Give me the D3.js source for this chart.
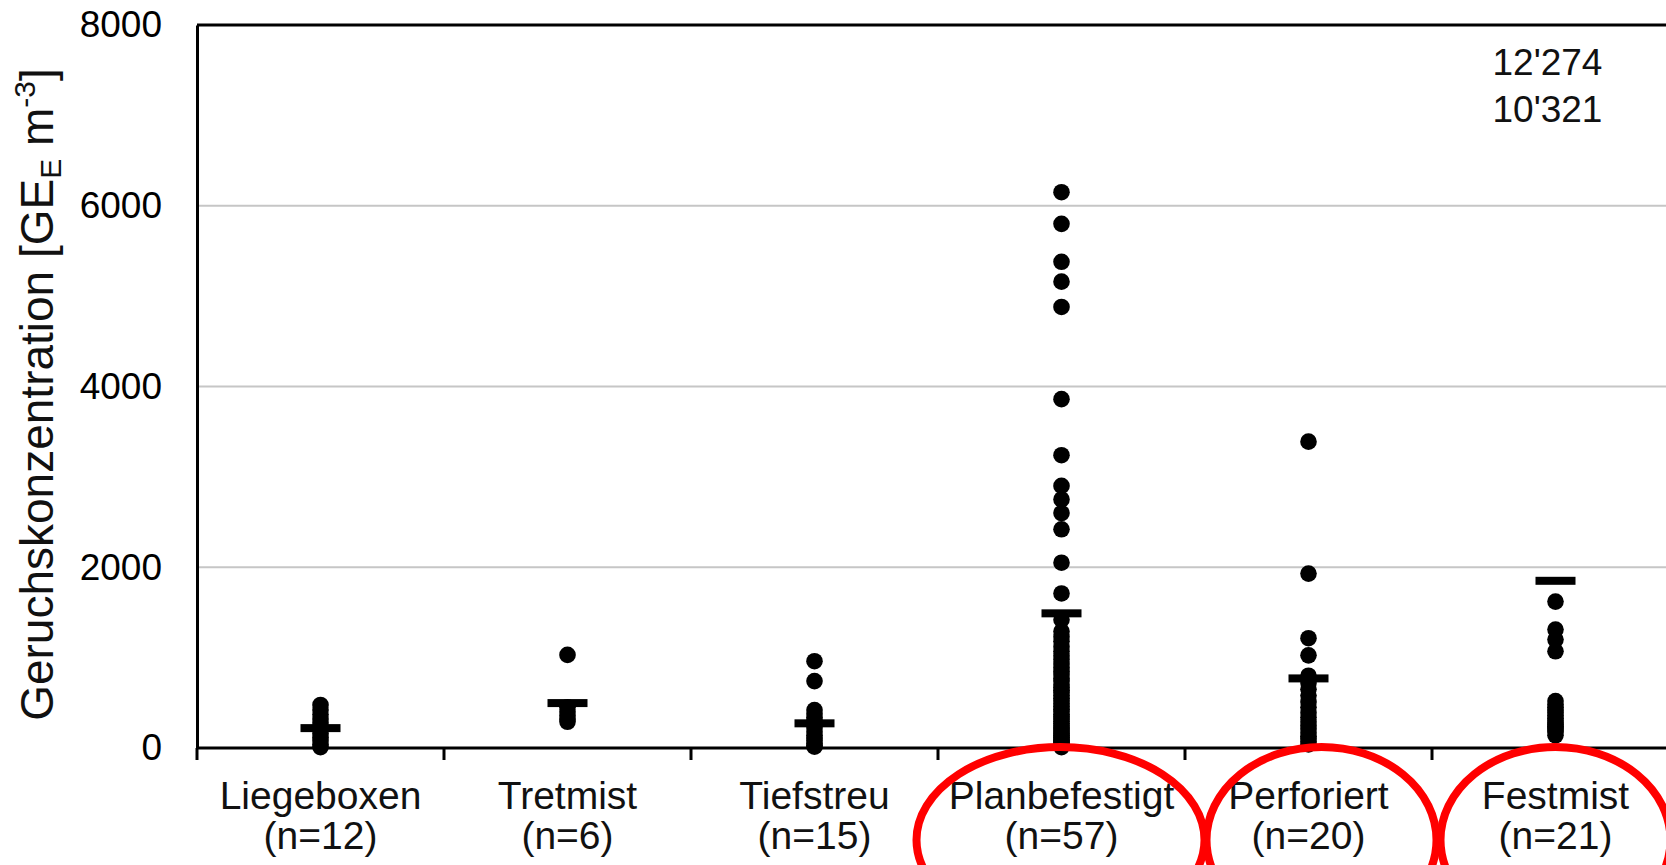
<!DOCTYPE html>
<html>
<head>
<meta charset="utf-8">
<script src="https://cdn.jsdelivr.net/npm/d3@7"></script>
<style>
  body { margin: 0; background: #fff; }
  svg { display: block; font-family: "Liberation Sans", Arial, sans-serif; }
</style>
</head>
<body>
<div id="chart"></div>
<script>
// --------------------------------------------------
// data

const categories = ['Liegeboxen', 'Tretmist', 'Tiefstreu', 'Planbefestigt', 'Perforiert', 'Festmist'];
const sampleCounts = [12, 6, 15, 57, 20, 21];
const yTicks = [0, 2000, 4000, 6000, 8000];

const liegeboxen = [476, 420, 370, 320, 280, 240, 200, 160, 120, 80, 40, 10];
const tretmist = [1030, 450, 400, 360, 320, 290];
const tiefstreu = [960, 740, 420, 380, 340, 300, 260, 220, 180, 140, 110, 80, 50, 30, 15];
const planbefestigt = [6150, 5800, 5380, 5160, 4880, 3860, 3240, 2900, 2750, 2600, 2420, 2050, 1710,
  1420, 1290, 1230, 1180, 1120, 1070, 1020, 980, 930, 890, 850, 810, 770, 740, 700, 670, 640, 610,
  580, 550, 520, 490, 460, 430, 400, 370, 345, 320, 295, 270, 245, 220, 200, 180, 160, 140, 120,
  100, 85, 70, 55, 40, 25, 10];
const perforiert = [3390, 1930, 1215, 1025, 800, 720, 650, 580, 510, 450, 390, 340, 290, 250, 210,
  170, 130, 100, 70, 40];
const festmist = [12274, 10321, 1620, 1310, 1200, 1070, 520, 480, 450, 420, 390, 360, 330, 300, 280,
  260, 240, 220, 200, 180, 140];

const means = [220, 497, 273, 1490, 770, 1850];
const highlighted = ['Planbefestigt', 'Perforiert', 'Festmist'];

const series = [liegeboxen, tretmist, tiefstreu, planbefestigt, perforiert, festmist];

// --------------------------------------------------

const width = 1666, height = 865;
const margin = { top: 25, left: 197, bottom: 117 };
const yMax = 8000;

const svg = d3.select('#chart')
  .append('svg')
  .attr('width', width)
  .attr('height', height);

const x = d3.scaleBand()
  .domain(categories)
  .range([margin.left, margin.left + 6 * 247]);

const y = d3.scaleLinear()
  .domain([0, yMax])
  .range([height - margin.bottom, margin.top]);

const fmt = d3.formatLocale({ decimal: '.', thousands: "'", grouping: [3], currency: ['', ''] }).format(',');

// grid lines
svg.append('g')
  .selectAll('line')
  .data(yTicks.filter(d => d > 0 && d < yMax))
  .enter()
  .append('line')
  .attr('x1', x.range()[0])
  .attr('x2', x.range()[1])
  .attr('y1', d => y(d))
  .attr('y2', d => y(d))
  .attr('stroke', '#c6c6c6')
  .attr('stroke-width', 2);

// frame top
svg.append('line')
  .attr('x1', x.range()[0])
  .attr('x2', x.range()[1])
  .attr('y1', y(yMax))
  .attr('y2', y(yMax))
  .attr('stroke', '#000')
  .attr('stroke-width', 3);

// y axis
const yAxis = svg.append('g')
  .attr('transform', `translate(${x.range()[0]},0)`)
  .call(d3.axisLeft(y).tickValues(yTicks).tickSize(0).tickPadding(35).tickFormat(d => d));
yAxis.select('.domain').attr('stroke-width', 3);
yAxis.selectAll('text')
  .attr('font-size', 37)
  .attr('font-family', '"Liberation Sans", Arial, sans-serif')
  .attr('fill', '#000');

// x axis line + boundary ticks
const boundaries = categories.map(c => x(c)).concat([x.range()[1]]);
svg.append('line')
  .attr('x1', x.range()[0])
  .attr('x2', x.range()[1])
  .attr('y1', y(0))
  .attr('y2', y(0))
  .attr('stroke', '#000')
  .attr('stroke-width', 3);
svg.append('g')
  .selectAll('line')
  .data(boundaries)
  .enter()
  .append('line')
  .attr('x1', d => d)
  .attr('x2', d => d)
  .attr('y1', y(0))
  .attr('y2', y(0) + 12)
  .attr('stroke', '#000')
  .attr('stroke-width', 3);

// category labels
const labels = svg.append('g')
  .selectAll('text')
  .data(categories)
  .enter()
  .append('text')
  .attr('text-anchor', 'middle')
  .attr('font-size', 39)
  .attr('fill', '#111');
labels.append('tspan')
  .attr('x', d => x(d) + x.bandwidth() / 2)
  .attr('y', 809)
  .text(d => d);
labels.append('tspan')
  .attr('x', d => x(d) + x.bandwidth() / 2)
  .attr('y', 849)
  .text((d, i) => `(n=${sampleCounts[i]})`);

// y title
const title = svg.append('text')
  .attr('transform', `translate(53,${(y(0) + y(yMax)) / 2 + 8}) rotate(-90)`)
  .attr('text-anchor', 'middle')
  .attr('font-size', 46)
  .attr('fill', '#111');
title.append('tspan').text('Geruchskonzentration [GE');
title.append('tspan').attr('font-size', 30).attr('dy', 8).text('E');
title.append('tspan').attr('dy', -8).text(' m');
title.append('tspan').attr('font-size', 30).attr('dy', -18).text('-3');
title.append('tspan').attr('dy', 18).text(']');

// data points
const points = svg.append('g');
series.forEach((vals, i) =>
{
  points.selectAll(null)
    .data(vals.filter(v => v <= yMax))
    .enter()
    .append('circle')
    .attr('cx', x(categories[i]) + x.bandwidth() / 2)
    .attr('cy', d => y(d))
    .attr('r', 8.3)
    .attr('fill', '#000');
});

// mean bars
svg.append('g')
  .selectAll('rect')
  .data(means)
  .enter()
  .append('rect')
  .attr('x', (d, i) => x(categories[i]) + x.bandwidth() / 2 - 20)
  .attr('y', d => y(d) - 4)
  .attr('width', 40)
  .attr('height', 8)
  .attr('fill', '#000');

// off-scale values, listed top right
const offScale = festmist.filter(v => v > yMax);
svg.append('g')
  .selectAll('text')
  .data(offScale)
  .enter()
  .append('text')
  .attr('x', x('Festmist') + x.bandwidth() / 2 - 63)
  .attr('y', (d, i) => 75 + i * 47)
  .attr('font-size', 37)
  .attr('fill', '#111')
  .text(d => fmt(d));

// red highlight ellipses
const ellipseShift = { Planbefestigt: -1, Perforiert: 13, Festmist: 0 };
const ellipseRx = { Planbefestigt: 144, Perforiert: 115, Festmist: 115 };
svg.append('g')
  .selectAll('ellipse')
  .data(highlighted)
  .enter()
  .append('ellipse')
  .attr('cx', d => x(d) + x.bandwidth() / 2 + ellipseShift[d])
  .attr('cy', 840)
  .attr('rx', d => ellipseRx[d])
  .attr('ry', 93)
  .attr('fill', 'none')
  .attr('stroke', '#ff0000')
  .attr('stroke-width', 8);
</script>
</body>
</html>
